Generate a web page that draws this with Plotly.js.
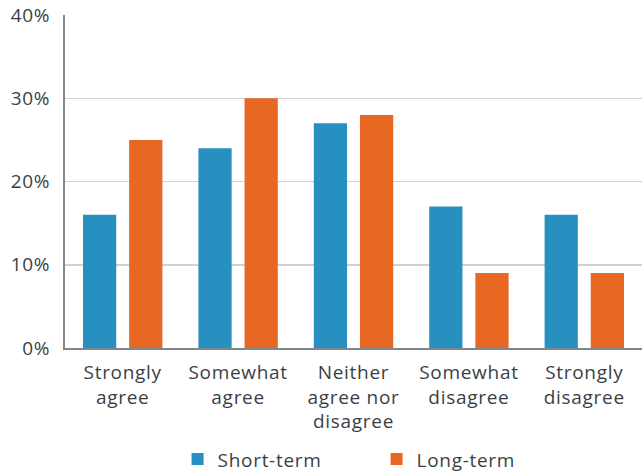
<!DOCTYPE html>
<html><head><meta charset="utf-8">
<script src="https://cdn.plot.ly/plotly-3.0.1.min.js"></script>
<style>html,body{margin:0;padding:0;background:#fff}
#chart text{letter-spacing:0.7px}</style>
</head><body><div id="chart" style="width:642px;height:472px"></div>
<script>
const categories = ["Strongly<br>agree","Somewhat<br>agree","Neither<br>agree nor<br>disagree","Somewhat<br>disagree","Strongly<br>disagree"];
const shortTerm = [16, 24, 27, 17, 16];
const longTerm = [25, 30, 28, 9, 9];
const yTicks = [0, 10, 20, 30, 40];
const yTickLabels = ["0%", "10%", "20%", "30%", "40%"];

const font = {family: "'Open Sans', sans-serif", size: 19, color: "#3b3f45"};
const data = [
  {type: "bar", name: "Short-term", x: categories, y: shortTerm, marker: {color: "#2890c1"}},
  {type: "bar", name: "Long-term", x: categories, y: longTerm, marker: {color: "#e86723"}}
];
const layout = {
  width: 642, height: 472,
  margin: {l: 65, r: 0, t: 15, b: 124},
  font: font,
  barmode: "group", bargap: 0.2, bargroupgap: 0.28,
  showlegend: true,
  legend: {orientation: "h", x: 0.54, xanchor: "center", yref: "container", y: 0.027, yanchor: "middle",
           font: font, entrywidth: 154, itemclick: false},
  xaxis: {tickfont: font, ticklabelstandoff: 6, showline: true, linecolor: "#7e868e", linewidth: 2, ticks: "", automargin: false},
  yaxis: {range: [0, 40], tickvals: yTicks, ticktext: yTickLabels, tickfont: font, ticklabelstandoff: 9,
          showgrid: true, gridcolor: "#cfd2d6", gridwidth: 1.5, showline: true, linecolor: "#7e868e", linewidth: 2,
          zeroline: false, ticks: "", ticklen: 0, automargin: false},
  plot_bgcolor: "#fff", paper_bgcolor: "#fff"
};
Plotly.newPlot("chart", data, layout, {displayModeBar: false, staticPlot: true});
</script></body></html>
